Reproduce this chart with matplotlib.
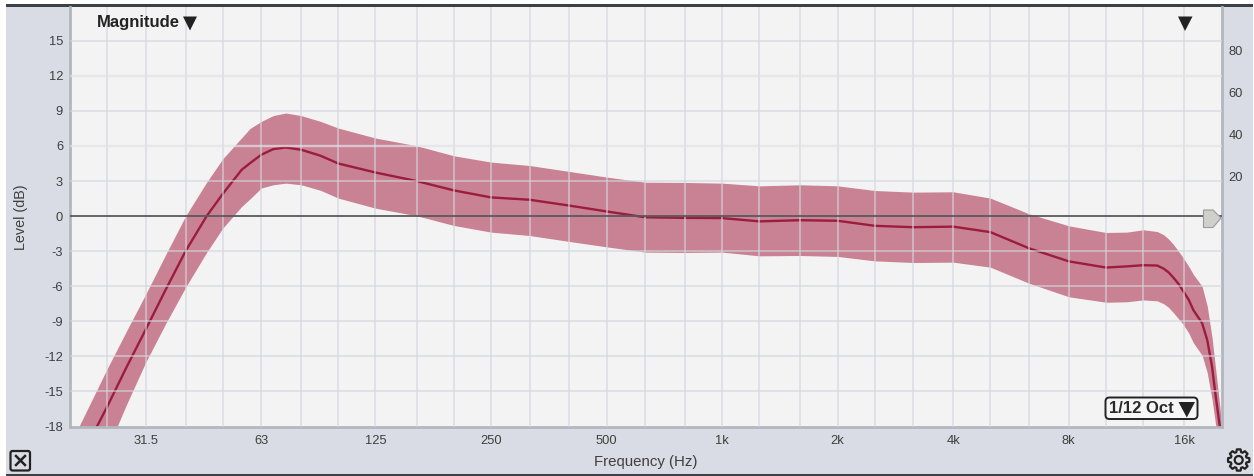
import matplotlib
matplotlib.use("Agg")
import matplotlib.pyplot as plt
from matplotlib.patches import Rectangle, FancyBboxPatch, Polygon, Circle
import numpy as np

freq_hz = [21.1, 25, 28, 31.5, 35.5, 40, 45.4, 50, 56, 58.9, 63, 67.7, 73, 80, 90, 100, 125, 160, 200, 250, 315, 400, 500, 630,
           800, 1000, 1250, 1600, 2000, 2500, 3150, 4000, 5000, 6300, 8000, 10000, 11350, 12500, 13600, 14145, 14570, 15020,
           15470, 15920, 16430, 16900, 17800, 18360, 18900, 19280, 19760, 20000]
level_mean = [-21, -16.3, -13.0, -9.7, -6.3, -3.0, 0.0, 1.9, 3.96, 4.53, 5.25, 5.73, 5.87, 5.68, 5.16, 4.5, 3.73, 3.0, 2.2, 1.6, 1.4, 0.9, 0.4, -0.1,
              -0.15, -0.17, -0.45, -0.35, -0.4, -0.83, -0.95, -0.9, -1.37, -2.75, -3.87, -4.4, -4.3, -4.2, -4.23, -4.5, -4.82, -5.3,
              -5.82, -6.45, -7.16, -8.05, -9.15, -10.6, -12.9, -15.2, -17.8, -19]
level_upper = [-18, -13.05, -9.9, -6.68, -3.3, 0.0, 2.9, 4.9, 6.7, 7.5, 8.1, 8.6, 8.82, 8.6, 8.1, 7.53, 6.68, 6.02, 5.16, 4.62, 4.33, 3.82, 3.34, 2.9,
               2.88, 2.82, 2.59, 2.68, 2.59, 2.19, 2.05, 2.08, 1.54, 0.2, -0.83, -1.4, -1.37, -1.17, -1.32, -1.6, -1.97, -2.46,
               -3.03, -3.6, -4.3, -5.0, -6.0, -7.7, -10.4, -12.9, -16, -17.7]
level_lower = [-24, -20, -16.2, -12.5, -9.2, -6.1, -3.1, -1.03, 0.82, 1.48, 2.4, 2.68, 2.82, 2.68, 2.2, 1.54, 0.68, 0.03, -0.8, -1.37, -1.66, -2.17, -2.63, -3.08,
               -3.11, -3.08, -3.4, -3.37, -3.45, -3.83, -3.97, -3.94, -4.37, -5.74, -6.9, -7.37, -7.33, -7.17, -7.25, -7.5, -7.82, -8.3,
               -8.8, -9.3, -10.0, -10.85, -11.9, -13.4, -15.7, -17.7, -20, -21]

freq_ticks = [31.5, 63, 125, 250, 500, 1000, 2000, 4000, 8000, 16000]
freq_tick_labels = ["31.5", "63", "125", "250", "500", "1k", "2k", "4k", "8k", "16k"]
third_octave_grid = [25, 31.5, 40, 50, 63, 80, 100, 125, 160, 200, 250, 315, 400, 500, 630, 800, 1000, 1250, 1600,
                     2000, 2500, 3150, 4000, 5000, 6300, 8000, 10000, 12500, 16000]
level_ticks = [-18, -15, -12, -9, -6, -3, 0, 3, 6, 9, 12, 15]
right_ticks = [20, 40, 60, 80]

W, H = 1254, 476
plt.rcParams["font.family"] = ["Liberation Sans", "DejaVu Sans"]
fig = plt.figure(figsize=(W / 100, H / 100), dpi=100, facecolor="white")

PANEL = "#d9dce4"
TXT = "#3f3f3f"

def px_rect(l, t, r, b):
    return [l / W, 1 - b / H, (r - l) / W, (b - t) / H]

bg = fig.add_axes([0, 0, 1, 1], zorder=0)
bg.set_xlim(0, W); bg.set_ylim(H, 0); bg.axis("off")
bg.add_patch(Rectangle((6, 5), 1247, 469, fc=PANEL, ec="none"))
bg.add_patch(Rectangle((6, 4), 1247, 3, fc="#3c4145", ec="none"))
bg.add_patch(Rectangle((6, 474), 1247, 2, fc="#3c4145", ec="none"))

ax = fig.add_axes(px_rect(70, 7, 1221.5, 426.5), zorder=1, facecolor="#f3f3f3")
ax.set_xscale("log", base=2)
ax.set_xlim(20, 20000)
ax.set_ylim(-18, 17.89)

ax.fill_between(freq_hz, level_lower, level_upper, color="#c88294", lw=0, zorder=1)
ax.plot(freq_hz, level_mean, color="#9c1c3e", lw=1.7, zorder=2, solid_joinstyle="round")

for f in third_octave_grid:
    ax.axvline(f, color="#d3d6de", lw=1.2, alpha=0.7, zorder=3)
for v in level_ticks[1:]:
    if v == 0:
        continue
    thick = v in (6, 12)
    ax.axhline(v, color="#e2e3e9" if thick else "#d3d6de", lw=1.7 if thick else 1.2, alpha=0.7, zorder=3)
ax.axhline(0, color="#585a5c", lw=1.3, zorder=4)

ax.set_xticks(freq_ticks)
ax.set_xticklabels(freq_tick_labels, fontsize=9.3, color=TXT)
ax.xaxis.set_minor_locator(matplotlib.ticker.NullLocator())
ax.set_yticks(level_ticks)
ax.set_yticklabels([str(v) for v in level_ticks], fontsize=9.3, color=TXT)
ax.tick_params(axis="x", length=0, pad=6)
ax.tick_params(axis="y", length=0, pad=5)
for s in ax.spines.values():
    s.set_color("#b2b6bd"); s.set_linewidth(2)
ax.spines["top"].set_visible(False)
ax.set_xlabel("Frequency (Hz)", fontsize=10.8, color=TXT, labelpad=6)
ax.set_ylabel("Level (dB)", fontsize=10.4, color=TXT, labelpad=11.5)

ax2 = ax.twinx()
ax2.set_ylim(-99.1, 100.6)
ax2.set_yticks(right_ticks)
ax2.set_yticklabels([str(v) for v in right_ticks], fontsize=9.3, color=TXT)
ax2.tick_params(axis="y", length=0, pad=5)
for s in ax2.spines.values():
    s.set_visible(False)

ov = fig.add_axes([0, 0, 1, 1], zorder=5)
ov.set_xlim(0, W); ov.set_ylim(H, 0); ov.axis("off"); ov.patch.set_alpha(0)
ov.text(97, 22.5, "Magnitude", fontsize=12, fontweight="bold", color="#222222", va="center", ha="left")
ov.add_patch(Polygon([(183, 16.5), (197, 16.5), (190, 30.5)], fc="#222222", ec="none"))
ov.add_patch(Polygon([(1178, 16.5), (1192.5, 16.5), (1185, 31)], fc="#222222", ec="none"))
ov.add_patch(Polygon([(1203.5, 210), (1213, 210), (1221, 218), (1213, 227.5), (1203.5, 227.5)],
                     fc="#cfcfcc", ec="#9a9a98", lw=0.8))
ov.add_patch(FancyBboxPatch((1105.5, 397.5), 92, 21.5, boxstyle="round,pad=0,rounding_size=4",
                            fc="#f6f6f6", ec="#222222", lw=1.4))
ov.text(1109, 408.5, "1/12 Oct", fontsize=12, fontweight="bold", color="#2a2a2a", va="center", ha="left")
ov.add_patch(Polygon([(1178.5, 402), (1195, 402), (1186.8, 417.5)], fc="#222222", ec="none"))
ov.add_patch(FancyBboxPatch((10.5, 451), 19.5, 19.5, boxstyle="round,pad=0,rounding_size=2",
                            fc="none", ec="#222222", lw=1.6))
ov.plot([16, 25], [456, 465], color="#222222", lw=1.8)
ov.plot([16, 25], [465, 456], color="#222222", lw=1.8)

# settings gear icon, drawn as an outline
gx, gy, teeth = 1238.7, 460.0, 8
gear = []
for k in range(teeth):
    a = 2 * np.pi * k / teeth
    step = 2 * np.pi / teeth
    for da, r in ((-0.30, 8.2), (-0.17, 10.8), (0.17, 10.8), (0.30, 8.2)):
        gear.append((gx + r * np.cos(a + da * step / 0.785), gy + r * np.sin(a + da * step / 0.785)))
ov.add_patch(Polygon(gear, fc="none", ec="#222222", lw=1.6, joinstyle="round"))
ov.add_patch(Circle((gx, gy), 4.0, fc="none", ec="#222222", lw=1.6))

fig.savefig("out.png", dpi=100, facecolor=fig.get_facecolor())
